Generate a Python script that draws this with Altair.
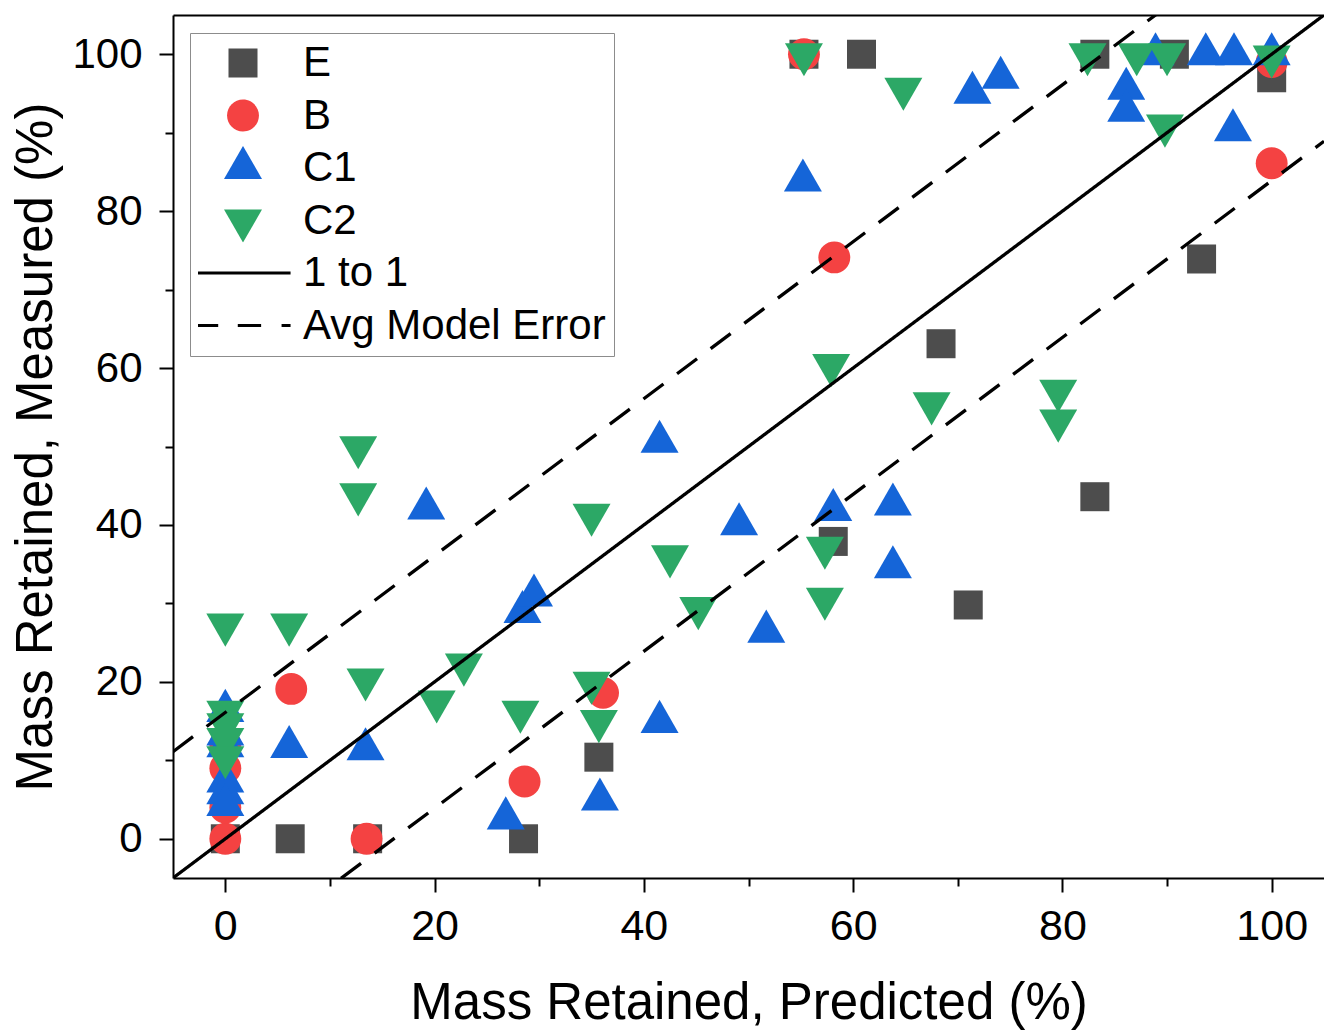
import altair as alt
import pandas as pd

# ---------------- data ----------------
series_names = ["E", "B", "C1", "C2"]
line_names = ["1 to 1", "Avg Model Error"]

e_x = [0, 6.2, 13.6, 28.5, 35.7, 58.1, 68.4, 71.0, 83.1, 93.3, 100, 55.3, 60.8, 83.1, 90.7]
e_y = [0, 0, 0, 0, 10.4, 37.9, 63.1, 29.8, 43.6, 73.9, 97.0, 100, 100, 100, 100]

b_x = [0, 0, 0, 0, 13.5, 6.3, 28.6, 36.1, 58.2, 55.3, 100, 100]
b_y = [0, 4.0, 9.0, 12.0, 0, 19.1, 7.3, 18.6, 74.1, 100, 86.1, 99.0]

c1_x = [0, 0, 0, 0, 0, 0, 6.1, 13.4, 19.2, 28.4, 29.5, 26.8, 35.8, 41.5, 41.5,
        49.1, 51.7, 58.1, 63.8, 63.8, 55.2, 71.4, 74.1, 86.1, 86.1, 96.3,
        88.9, 93.7, 96.4, 100]
c1_y = [16.3, 13.3, 11.8, 7.3, 5.8, 4.3, 11.7, 11.4, 42.1, 28.9, 31.0, 2.6, 5.0, 50.6, 14.9,
        40.1, 26.4, 41.9, 42.6, 34.6, 83.9, 95.1, 97.0, 95.6, 92.8, 90.3,
        100, 100, 100, 100]

c2_x = [0, 0, 0, 0, 0, 6.1, 12.7, 12.7, 13.4, 20.2, 22.8, 28.2, 35.0, 35.0, 35.7,
        42.5, 45.2, 57.3, 57.3, 57.9, 67.5, 79.6, 79.6, 64.8, 55.3, 82.4, 87.1,
        90.0, 89.8, 100]
c2_y = [27.3, 16.2, 14.6, 12.7, 10.4, 27.3, 49.9, 43.9, 20.3, 17.5, 22.2, 16.2, 41.3, 19.9, 15.0,
        36.0, 29.4, 37.1, 30.6, 60.4, 55.5, 57.1, 53.3, 95.6, 100, 100, 100,
        100, 90.9, 99.7]

avg_model_error = 16.1
axis_min, axis_max = -5, 105

# ---------------- tables ----------------
rows = []
for name, xs, ys in [("E", e_x, e_y), ("B", b_x, b_y), ("C1", c1_x, c1_y), ("C2", c2_x, c2_y)]:
    for xv, yv in zip(xs, ys):
        rows.append({"series": name, "x": xv, "y": yv, "ord": len(rows)})
points = pd.DataFrame(rows)

line_rows = []
for lid, kind, off in [("one", "1 to 1", 0.0),
                       ("upper", "Avg Model Error", avg_model_error),
                       ("lower", "Avg Model Error", -avg_model_error)]:
    for xv in (axis_min, axis_max):
        line_rows.append({"id": lid, "kind": kind, "x": xv, "y": xv + off})
lines = pd.DataFrame(line_rows)

# ---------------- styling ----------------
FONT = "Liberation Sans"
domain = series_names + line_names
colors = ["#4d4d4d", "#f44242", "#1565d8", "#2ca866", "black", "black"]
shapes = [
    "square",
    "M1.1,0A1.1,1.1,0,1,1,-1.1,0A1.1,1.1,0,1,1,1.1,0Z",
    "M0,-1.52L1.31,0.76L-1.31,0.76Z",
    "M0,1.52L1.31,-0.76L-1.31,-0.76Z",
    # legend-only line symbols drawn as thin filled bars
    "M-3.28,-0.11H3.28V0.11H-3.28Z",
    "M-3.28,-0.11H-1.71V0.11H-3.28ZM-0.36,-0.11H1.25V0.11H-0.36ZM2.66,-0.11H3.28V0.11H2.66Z",
]

legend = alt.Legend(
    title=None, orient="none", legendX=17, legendY=18, direction="vertical",
    labelFont=FONT, labelFontSize=42, labelColor="black", labelLimit=600,
    symbolSize=841, symbolOffset=24, labelOffset=39,
    padding=8, rowPadding=8.5, clipHeight=44,
    strokeColor="#8c8c8c", fillColor="white", symbolOpacity=1,
)

xscale = alt.Scale(domain=[axis_min, axis_max], nice=False, zero=False)
yscale = alt.Scale(domain=[axis_min, axis_max], nice=False, zero=False)

major = "datum.value % 20 == 0"
x_axis = alt.Axis(
    values=list(range(0, 101, 10)), labelExpr=f"{major} ? datum.label : ''",
    title="Mass Retained, Predicted (%)", grid=False,
    tickSize={"condition": {"test": major, "value": 14}, "value": 8},
    tickWidth=2, tickColor="black", domainColor="black", domainWidth=2,
    labelFont=FONT, labelFontSize=43, labelColor="black", labelPadding=13,
    titleFont=FONT, titleFontSize=51, titleFontWeight="normal", titleColor="black",
    titlePadding=30,
)
y_axis = alt.Axis(
    values=list(range(0, 101, 10)), labelExpr=f"{major} ? datum.label : ''",
    title="Mass Retained, Measured (%)", grid=False,
    tickSize={"condition": {"test": major, "value": 14}, "value": 8},
    tickWidth=2, tickColor="black", domainColor="black", domainWidth=2,
    labelFont=FONT, labelFontSize=42, labelColor="black", labelPadding=17,
    titleFont=FONT, titleFontSize=51, titleFontWeight="normal", titleColor="black",
    titlePadding=9,
)
top_axis = alt.Axis(orient="top", labels=False, ticks=False, title=None, grid=False,
                    domainColor="black", domainWidth=2)

y_enc = alt.Y("y:Q", scale=yscale, axis=y_axis)

pts = alt.Chart(points).mark_point(filled=True, opacity=1, size=841, strokeWidth=0).encode(
    x=alt.X("x:Q", scale=xscale, axis=x_axis),
    y=y_enc,
    color=alt.Color("series:N", scale=alt.Scale(domain=domain, range=colors), legend=legend),
    shape=alt.Shape("series:N", scale=alt.Scale(domain=domain, range=shapes), legend=legend),
    order=alt.Order("ord:Q"),
)

lns = alt.Chart(lines).mark_line(clip=True, color="black", strokeWidth=3.3, strokeCap="butt").encode(
    x=alt.X("x:Q", scale=xscale, axis=top_axis),
    y=y_enc,
    detail="id:N",
    strokeDash=alt.StrokeDash("kind:N", scale=alt.Scale(domain=line_names, range=[[1, 0], [25, 17]]),
                              legend=None),
)

chart = alt.layer(pts, lns).resolve_axis(x="independent").properties(
    width=1151, height=863,
    autosize=alt.AutoSizeParams(type="none"),
    padding={"left": 173, "top": 15, "right": 0, "bottom": 152},
    background="white",
).configure_view(stroke=None)

chart.save("out.html", embed_options={"renderer": "svg", "actions": False})
